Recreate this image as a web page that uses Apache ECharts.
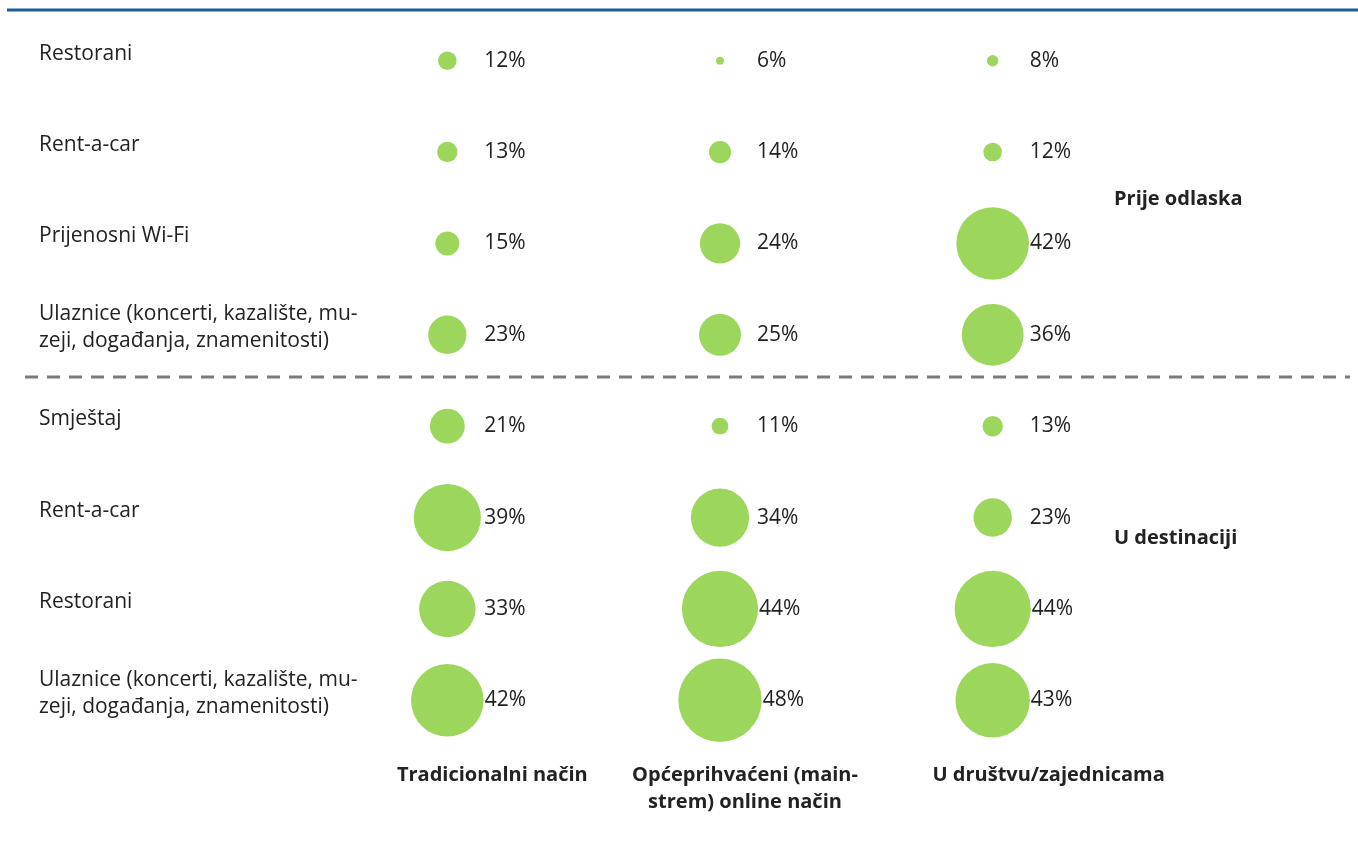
<!DOCTYPE html>
<html>
<head>
<meta charset="utf-8">
<style>
  html, body { margin: 0; padding: 0; background: #ffffff; }
  #chart { width: 1358px; height: 842px; }
</style>
<script src="https://cdn.jsdelivr.net/npm/echarts@6/dist/echarts.min.js"></script>
</head>
<body>
<div id="chart"></div>
<script>
// Columns: ways of booking
const channels = ['Tradicionalni način', 'Općeprihvaćeni (main-\nstrem) online način', 'U društvu/zajednicama'];
// Rows, top to bottom
const services = [
  'Restorani',
  'Rent-a-car',
  'Prijenosni Wi-Fi',
  'Ulaznice (koncerti, kazalište, mu-\nzeji, događanja, znamenitosti)',
  'Smještaj',
  'Rent-a-car',
  'Restorani',
  'Ulaznice (koncerti, kazalište, mu-\nzeji, događanja, znamenitosti)'
];
const phases = ['Prije odlaska', 'U destinaciji'];

// Share (%) per service row, one array per channel
const tradicionalni = [12, 13, 15, 23, 21, 39, 33, 42];
const online        = [6, 14, 24, 25, 11, 34, 44, 48];
const zajednice     = [8, 12, 42, 36, 13, 23, 44, 43];

const seriesValues = [tradicionalni, online, zajednice];

// bubble diameter in px from the share
function bubbleSize(v) {
  return Math.max(5, 1.8 * v - 3);
}

const points = [];
seriesValues.forEach((vals, ci) => {
  vals.forEach((v, ri) => {
    const d = bubbleSize(v);
    points.push({
      value: [ci, ri, v],
      symbolSize: d,
      label: { distance: Math.max(1, 37 - d / 2) }
    });
  });
});

const FONT = 'Open Sans';
const TEXT = '#222222';

// left padding that nudges each column caption sideways
const captionPad = [90, 50, 112];

const chart = echarts.init(document.getElementById('chart'));
chart.setOption({
  backgroundColor: '#ffffff',
  animation: false,
  grid: { left: 311, right: 229, top: 15, bottom: 96 },
  xAxis: {
    type: 'category',
    data: channels.map((c, i) => ({ value: c, textStyle: { padding: [0, 0, 0, captionPad[i]] } })),
    axisLine: { show: false },
    axisTick: { show: false },
    splitLine: { show: false },
    axisLabel: {
      interval: 0,
      margin: 16,
      fontFamily: FONT,
      fontWeight: 'bold',
      fontSize: 20,
      lineHeight: 27,
      color: TEXT,
      verticalAlign: 'top'
    }
  },
  yAxis: {
    type: 'category',
    inverse: true,
    data: services,
    axisLine: { show: false },
    axisTick: { show: false },
    splitLine: { show: false },
    axisLabel: {
      interval: 0,
      align: 'left',
      margin: 272,
      color: TEXT,
      // each line as a rich block, plus a short empty line below to lift the text
      formatter: v => v.split('\n').map(s => '{t|' + s + '}').join('\n') + '\n{g| }',
      rich: {
        t: { fontFamily: FONT, fontSize: 21, lineHeight: 27, color: TEXT },
        g: { fontSize: 4, lineHeight: 14, height: 14 }
      }
    }
  },
  series: [{
    type: 'scatter',
    data: points,
    itemStyle: { color: '#9dd65c', opacity: 1 },
    label: {
      show: true,
      position: 'right',
      formatter: p => p.value[2] + '%',
      fontFamily: FONT,
      fontSize: 21,
      color: TEXT,
      padding: [4, 0, 0, 0]
    }
  }],
  graphic: [
    {
      type: 'line',
      shape: { x1: 7, y1: 10, x2: 1358, y2: 10 },
      style: { stroke: '#1d5b97', lineWidth: 3 }
    },
    {
      type: 'line',
      shape: { x1: 25, y1: 377, x2: 1350, y2: 377 },
      style: { stroke: '#7a7a7a', lineWidth: 3, lineDash: [13, 9] }
    },
    {
      type: 'text',
      left: 1114, top: 189,
      style: { text: phases[0], fontFamily: FONT, fontWeight: 'bold', fontSize: 20, fill: TEXT }
    },
    {
      type: 'text',
      left: 1114, top: 528,
      style: { text: phases[1], fontFamily: FONT, fontWeight: 'bold', fontSize: 20, fill: TEXT }
    }
  ]
});
</script>
</body>
</html>
